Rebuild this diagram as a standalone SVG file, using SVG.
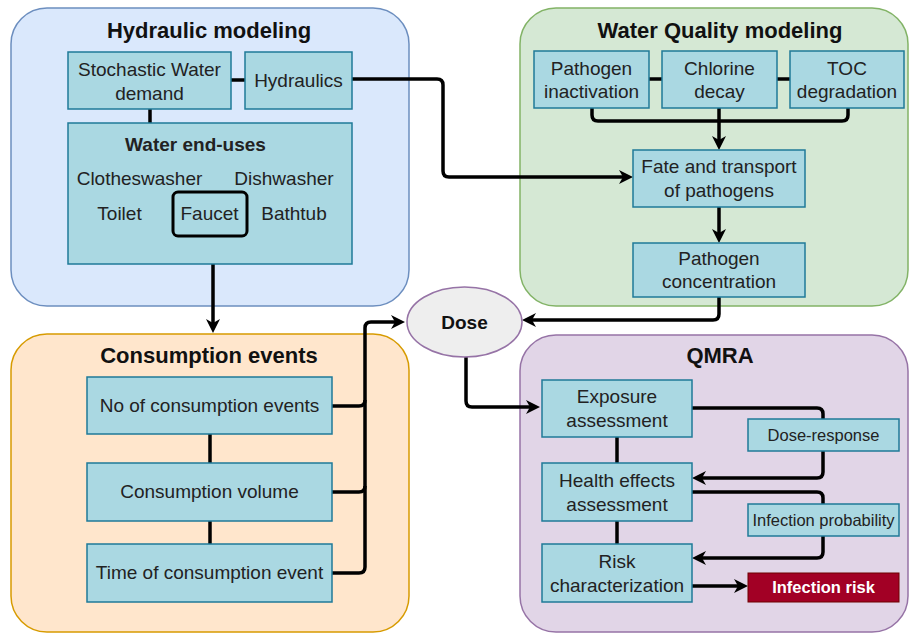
<svg xmlns="http://www.w3.org/2000/svg" width="909" height="633" viewBox="0 0 909 633">
<style>
text{font-family:"Liberation Sans",Arial,sans-serif;fill:#222;text-anchor:middle}
.title{font-size:22px;font-weight:bold;fill:#111}
.t{font-size:19px}
.s{font-size:16.5px}
.b{font-weight:bold}
.box{fill:#aad8e2;stroke:#1f7a98;stroke-width:1.5}
.con{fill:none;stroke:#000;stroke-width:3.5;stroke-linejoin:round}
.arr{marker-end:url(#ah)}
</style>
<defs>
<marker id="ah" viewBox="0 0 14 14" markerWidth="14" markerHeight="14" refX="9" refY="7" orient="auto" markerUnits="userSpaceOnUse">
<path d="M0,0 L14,7 L0,14 L4,7 Z" fill="#000"/>
</marker>
</defs>
<rect width="909" height="633" fill="#fff"/>
<g id="hydraulic-modeling">
<rect x="11" y="8" width="398" height="298" rx="36" fill="#dae8fc" stroke="#6c8ebf" stroke-width="1.5"/>
<text class="title" x="209" y="38">Hydraulic modeling</text>
</g>
<g id="water-quality-modeling">
<rect x="520" y="8" width="388" height="298" rx="36" fill="#d5e8d4" stroke="#82b366" stroke-width="1.5"/>
<text class="title" x="720" y="38">Water Quality modeling</text>
</g>
<g id="consumption-events">
<rect x="11" y="334" width="398" height="298" rx="36" fill="#ffe6cc" stroke="#d79b00" stroke-width="1.5"/>
<text class="title" x="209" y="363">Consumption events</text>
</g>
<g id="qmra">
<rect x="520" y="335" width="388" height="297" rx="36" fill="#e1d5e7" stroke="#9673a6" stroke-width="1.5"/>
<text class="title" x="720" y="363">QMRA</text>
</g>
<g id="connectors">
<path class="con" d="M231,80 H245"/>
<path class="con" d="M150,109 V123"/>
<path class="con arr" d="M352,79 H437 Q443,79 443,85 V171 Q443,177 449,177 H628"/>
<path class="con arr" d="M213,236 V328"/>
<path class="con" d="M649,79 H662"/>
<path class="con" d="M777,79 H790"/>
<path class="con" d="M592,108 V115 Q592,121 598,121 H842 Q848,121 848,115 V108"/>
<path class="con arr" d="M719,108 V145"/>
<path class="con arr" d="M719,207 V238"/>
<path class="con arr" d="M719,297 V314 Q719,320 713,320 H527"/>
<path class="con" d="M210,434 V463"/>
<path class="con" d="M210,521 V544"/>
<path class="con" d="M332,406 H359 Q365,406 365,400"/>
<path class="con" d="M332,492 H359 Q365,492 365,486"/>
<path class="con arr" d="M332,573 H359 Q365,573 365,567 V328 Q365,322 371,322 H400"/>
<path class="con arr" d="M466,357 V401 Q466,407 472,407 H535"/>
<path class="con" d="M617,437 V463"/>
<path class="con" d="M617,521 V544"/>
<path class="con arr" d="M692,408 H817 Q823,408 823,414 V472 Q823,478 817,478 H697"/>
<path class="con arr" d="M692,492 H817 Q823,492 823,498 V552 Q823,558 817,558 H697"/>
<path class="con arr" d="M692,586 H743"/>
</g>
<g id="stochastic-water-demand">
<rect class="box" x="68" y="52" width="163" height="57"/>
<text class="t" x="149.5" y="76">Stochastic Water</text>
<text class="t" x="149.5" y="100">demand</text>
</g>
<g id="hydraulics">
<rect class="box" x="245" y="52" width="107" height="57"/>
<text class="t" x="298.5" y="87">Hydraulics</text>
</g>
<g id="water-end-uses">
<rect class="box" x="68" y="123" width="284" height="141"/>
<text class="t b" x="195.5" y="151">Water end-uses</text>
<text class="t" x="139.5" y="185">Clotheswasher</text>
<text class="t" x="284" y="185">Dishwasher</text>
<text class="t" x="119.5" y="220">Toilet</text>
<text class="t" x="294" y="220">Bathtub</text>
</g>
<g id="faucet">
<rect x="173" y="192" width="74" height="44" rx="5" fill="none" stroke="#000" stroke-width="3"/>
<text class="t" x="209.5" y="220">Faucet</text>
</g>
<g id="pathogen-inactivation">
<rect class="box" x="534" y="51" width="115" height="57"/>
<text class="t" x="591.5" y="75">Pathogen</text>
<text class="t" x="591.5" y="98">inactivation</text>
</g>
<g id="chlorine-decay">
<rect class="box" x="662" y="51" width="115" height="57"/>
<text class="t" x="719.5" y="75">Chlorine</text>
<text class="t" x="719.5" y="98">decay</text>
</g>
<g id="toc-degradation">
<rect class="box" x="790" y="51" width="114" height="57"/>
<text class="t" x="847" y="75">TOC</text>
<text class="t" x="847" y="98">degradation</text>
</g>
<g id="fate-and-transport">
<rect class="box" x="633" y="150" width="172" height="57"/>
<text class="t" x="719" y="173">Fate and transport</text>
<text class="t" x="719" y="197">of pathogens</text>
</g>
<g id="pathogen-concentration">
<rect class="box" x="633" y="243" width="172" height="54"/>
<text class="t" x="719" y="265">Pathogen</text>
<text class="t" x="719" y="288">concentration</text>
</g>
<g id="dose">
<ellipse cx="464.5" cy="322" rx="57.5" ry="35" fill="#eeeeee" stroke="#9673a6" stroke-width="1.5"/>
<text class="b" x="464.5" y="329" style="font-size:19px;fill:#111">Dose</text>
</g>
<g id="no-of-consumption-events">
<rect class="box" x="87" y="377" width="245" height="57"/>
<text class="t" x="209.5" y="412">No of consumption events</text>
</g>
<g id="consumption-volume">
<rect class="box" x="87" y="463" width="245" height="58"/>
<text class="t" x="209.5" y="498">Consumption volume</text>
</g>
<g id="time-of-consumption-event">
<rect class="box" x="87" y="544" width="245" height="58"/>
<text class="t" x="209.5" y="579">Time of consumption event</text>
</g>
<g id="exposure-assessment">
<rect class="box" x="542" y="380" width="150" height="57"/>
<text class="t" x="617" y="403">Exposure</text>
<text class="t" x="617" y="427">assessment</text>
</g>
<g id="health-effects-assessment">
<rect class="box" x="542" y="463" width="150" height="58"/>
<text class="t" x="617" y="487">Health effects</text>
<text class="t" x="617" y="511">assessment</text>
</g>
<g id="risk-characterization">
<rect class="box" x="542" y="544" width="150" height="58"/>
<text class="t" x="617" y="568">Risk</text>
<text class="t" x="617" y="592">characterization</text>
</g>
<g id="dose-response">
<rect class="box" x="748" y="419" width="151" height="32"/>
<text class="s" x="823.5" y="441">Dose-response</text>
</g>
<g id="infection-probability">
<rect class="box" x="748" y="504" width="151" height="32"/>
<text class="s" x="823.5" y="526">Infection probability</text>
</g>
<g id="infection-risk">
<rect x="748" y="573" width="151" height="29" fill="#a20025" stroke="#6f0000" stroke-width="1"/>
<text class="s b" x="823.5" y="593" style="fill:#fff">Infection risk</text>
</g>
</svg>
